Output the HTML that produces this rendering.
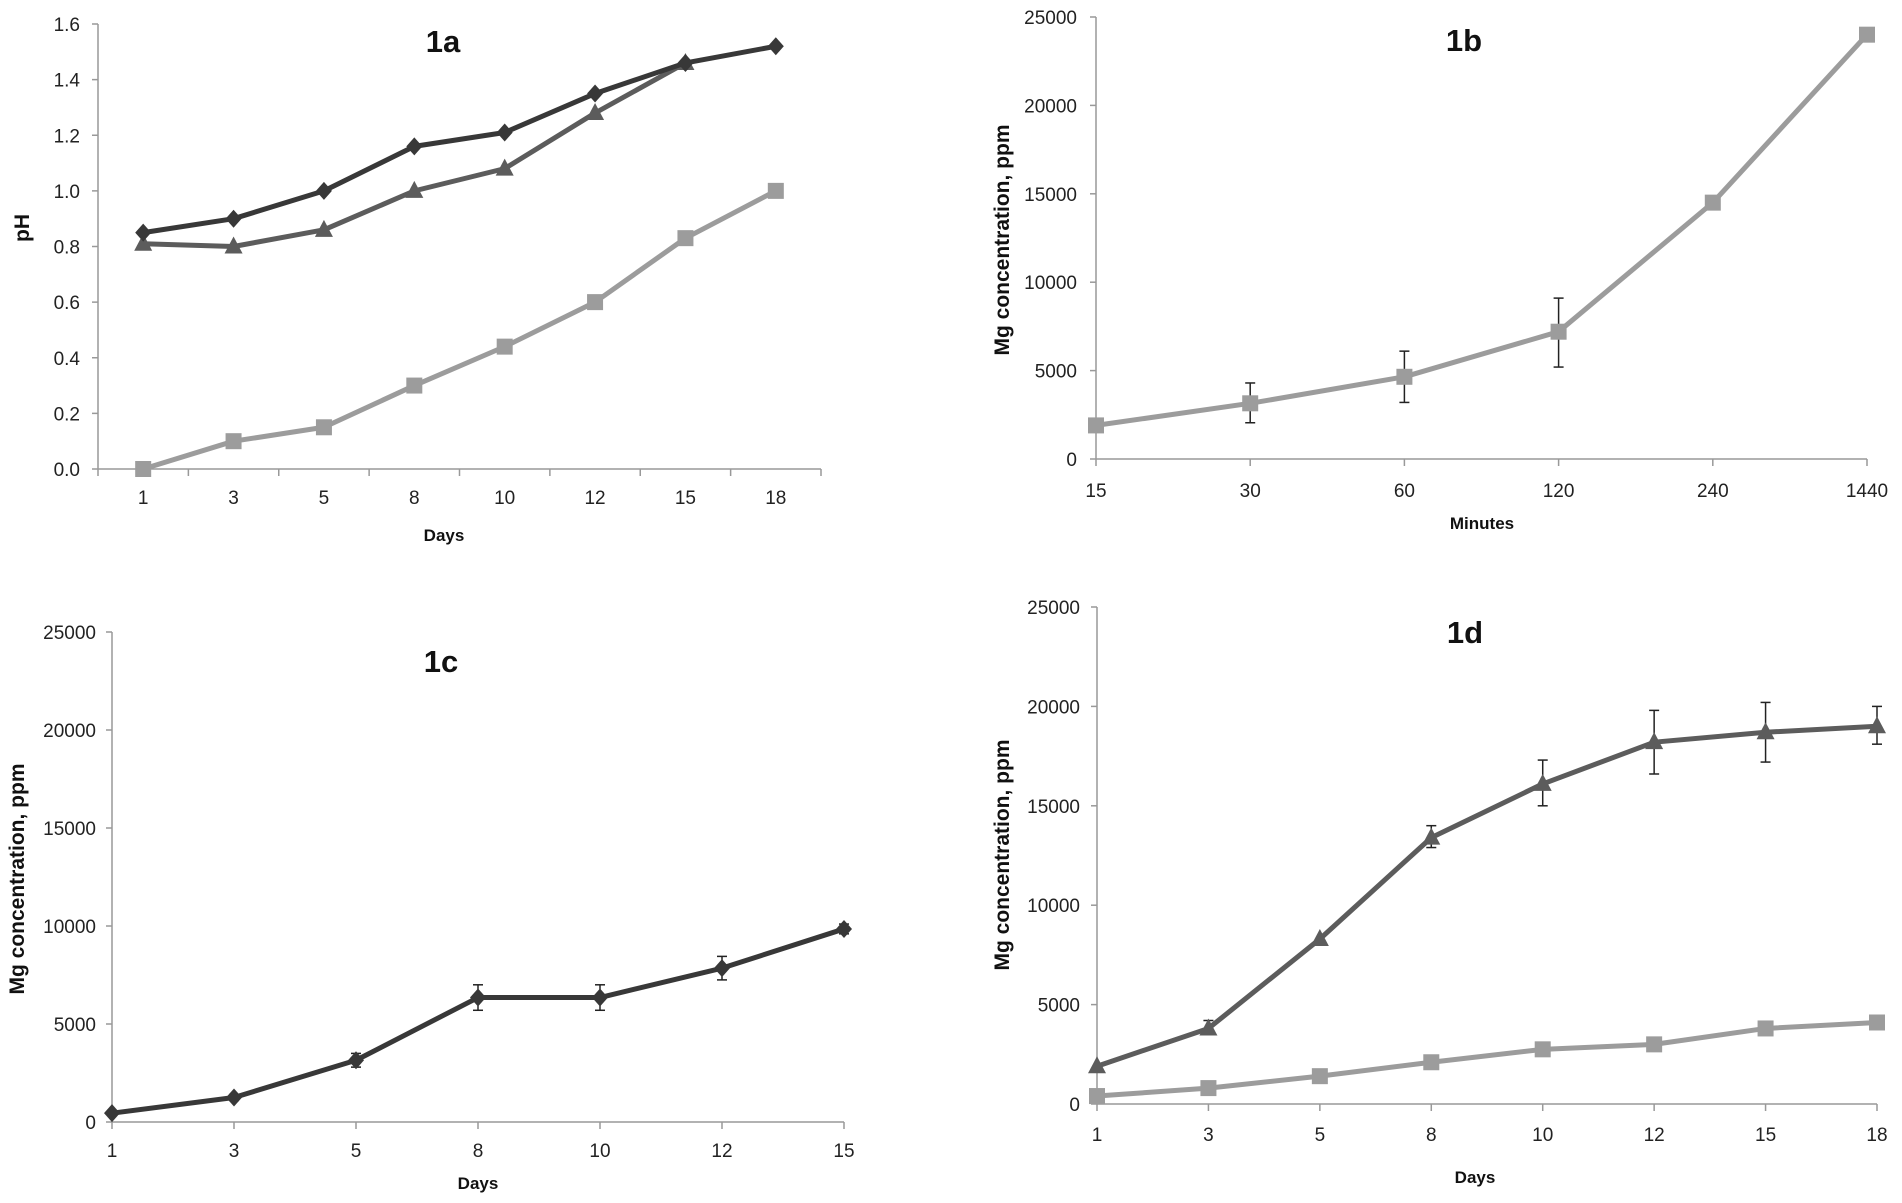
<!DOCTYPE html>
<html><head><meta charset="utf-8"><style>
html,body{margin:0;padding:0;background:#fff;}
svg{display:block;font-family:"Liberation Sans",sans-serif;}
</style></head><body>
<svg id="chart" width="1902" height="1203" viewBox="0 0 1902 1203" xmlns="http://www.w3.org/2000/svg"></svg>
<script>
// ---- Data ----
const catsA = ["1","3","5","8","10","12","15","18"];
const phDiamond = [0.85,0.90,1.00,1.16,1.21,1.35,1.46,1.52];
const phTriangle = [0.81,0.80,0.86,1.00,1.08,1.28,1.46];
const phSquare = [0.00,0.10,0.15,0.30,0.44,0.60,0.83,1.00];
const ticksA = ["0.0","0.2","0.4","0.6","0.8","1.0","1.2","1.4","1.6"];

const catsB = ["15","30","60","120","240","1440"];
const mgB = [1900,3150,4650,7200,14500,24000];
const errLoB = [null,2050,3200,5200,null,null];
const errHiB = [null,4300,6100,9100,null,null];

const catsC = ["1","3","5","8","10","12","15"];
const mgC = [450,1250,3150,6350,6350,7850,9850];
const errLoC = [null,1100,2800,5700,5700,7250,9600];
const errHiC = [null,1400,3500,7000,7000,8450,10100];

const catsD = ["1","3","5","8","10","12","15","18"];
const mgDTri = [1900,3800,8300,13400,16100,18200,18700,19000];
const errLoD = [null,3500,null,12900,15000,16600,17200,18100];
const errHiD = [null,4200,null,14000,17300,19800,20200,20000];
const mgDSq = [400,800,1400,2100,2750,3000,3800,4100];
const ticksMg = ["0","5000","10000","15000","20000","25000"];

const svg = document.getElementById('chart');
const NS = "http://www.w3.org/2000/svg";
function el(tag, attrs, parent){const e=document.createElementNS(NS,tag);for(const k in attrs)e.setAttribute(k,attrs[k]);(parent||svg).appendChild(e);return e;}

function panel(cfg){
  const g = el('g',{});
  
  
  const {x0,x1,y0,y1,ymax,cats,between} = cfg;
  const n = cats.length;
  const step = between ? (x1-x0)/n : (x1-x0)/(n-1);
  const xs = i => between ? x0+step*(i+0.5) : x0+step*i;
  const ys = v => y0-(v/ymax)*(y0-y1);
  const ya = el('line',{x1:x0,y1:y1,x2:x0,y2:y0,stroke:'#999','stroke-width':1.5},g);
   
  const xa = el('line',{x1:x0,y1:y0,x2:x1,y2:y0,stroke:'#999','stroke-width':1.5},g);
   
  cfg.ticks.forEach((t,i)=>{
    const v = ymax*i/(cfg.ticks.length-1), y=ys(v);
    el('line',{x1:x0-6,y1:y,x2:x0,y2:y,stroke:'#999','stroke-width':1.5},g);
    const tx = el('text',{x:cfg.ylabX,y:y+7,'text-anchor':'end','font-size':19,fill:'#222'},g);
    tx.textContent=t;
     
  });
  const nt = between ? n+1 : n;
  for(let i=0;i<nt;i++){const x=x0+step*i;el('line',{x1:x,y1:y0,x2:x,y2:y0+7,stroke:'#999','stroke-width':1.5},g);}
  cats.forEach((c,i)=>{
    const tx = el('text',{x:xs(i),y:cfg.xlabY+7,'text-anchor':'middle','font-size':19,fill:'#222'},g);
    tx.textContent=c;
     
  });
  const tt = el('text',{x:cfg.title[0],y:cfg.title[1]+11,'text-anchor':'middle','font-size':31,'font-weight':'bold',fill:'#111'},g);
  tt.textContent=cfg.title[2];
   
  const yt = el('text',{x:0,y:0,'text-anchor':'middle','font-size':21,'font-weight':'bold',fill:'#111',transform:`translate(${cfg.ytitle[0]+7},${cfg.ytitle[1]}) rotate(-90)`},g);
  yt.textContent=cfg.ytitle[2];
   
  const xt = el('text',{x:cfg.xtitle[0],y:cfg.xtitle[1]+6,'text-anchor':'middle','font-size':17,'font-weight':'bold',fill:'#111'},g);
  xt.textContent=cfg.xtitle[2];
   
  cfg.series.forEach(s=>{
    const sg = el('g',{},g);
    
    
    if(s.lo){s.lo.forEach((lo,i)=>{ if(lo==null) return; const x=xs(i),a=ys(lo),b=ys(s.hi[i]);
      el('line',{x1:x,y1:a,x2:x,y2:b,stroke:'#222','stroke-width':1.5},sg);
      el('line',{x1:x-5,y1:a,x2:x+5,y2:a,stroke:'#222','stroke-width':1.5},sg);
      el('line',{x1:x-5,y1:b,x2:x+5,y2:b,stroke:'#222','stroke-width':1.5},sg);});}
    const pts = s.vals.map((v,i)=>xs(i)+','+ys(v)).join(' ');
    const pl = el('polyline',{points:pts,fill:'none',stroke:s.color,'stroke-width':5,'stroke-linejoin':'round'},sg);
     
    s.vals.forEach((v,i)=>{
      const x=xs(i),y=ys(v); let m;
      if(s.marker==='square') m=el('rect',{x:x-8,y:y-8,width:16,height:16,fill:s.color},sg);
      else if(s.marker==='diamond') m=el('polygon',{points:`${x},${y-9} ${x+8},${y} ${x},${y+9} ${x-8},${y}`,fill:s.color},sg);
      else m=el('polygon',{points:`${x},${y-10} ${x+9},${y+7} ${x-9},${y+7}`,fill:s.color},sg);
       
    });
  });
}

const dark='#383838', mid='#5c5c5c', light='#9c9c9c';
panel({name:'panel-1a',x0:98,x1:821,y0:469,y1:24,ymax:1.6,cats:catsA,between:true,ticks:ticksA,ylabX:80,xlabY:497,
  title:[443,41,'1a'],ytitle:[22,228,'pH'],xtitle:[444,535,'Days'],
  series:[{name:'square-series',vals:phSquare,color:light,marker:'square'},
          {name:'triangle-series',vals:phTriangle,color:mid,marker:'triangle'},
          {name:'diamond-series',vals:phDiamond,color:dark,marker:'diamond'}]});
panel({name:'panel-1b',x0:1096,x1:1867,y0:459,y1:17,ymax:25000,cats:catsB,between:false,ticks:ticksMg,ylabX:1077,xlabY:490,
  title:[1464,40,'1b'],ytitle:[1002,240,'Mg concentration, ppm'],xtitle:[1482,523,'Minutes'],
  series:[{name:'square-series',vals:mgB,color:light,marker:'square',lo:errLoB,hi:errHiB}]});
panel({name:'panel-1c',x0:112,x1:844,y0:1122,y1:632,ymax:25000,cats:catsC,between:false,ticks:ticksMg,ylabX:96,xlabY:1150,
  title:[441,661,'1c'],ytitle:[17,879,'Mg concentration, ppm'],xtitle:[478,1183,'Days'],
  series:[{name:'diamond-series',vals:mgC,color:dark,marker:'diamond',lo:errLoC,hi:errHiC}]});
panel({name:'panel-1d',x0:1097,x1:1877,y0:1104,y1:607,ymax:25000,cats:catsD,between:false,ticks:ticksMg,ylabX:1080,xlabY:1134,
  title:[1465,632,'1d'],ytitle:[1002,855,'Mg concentration, ppm'],xtitle:[1475,1177,'Days'],
  series:[{name:'square-series',vals:mgDSq,color:light,marker:'square'},
          {name:'triangle-series',vals:mgDTri,color:mid,marker:'triangle',lo:errLoD,hi:errHiD}]});
</script>
</body></html>
